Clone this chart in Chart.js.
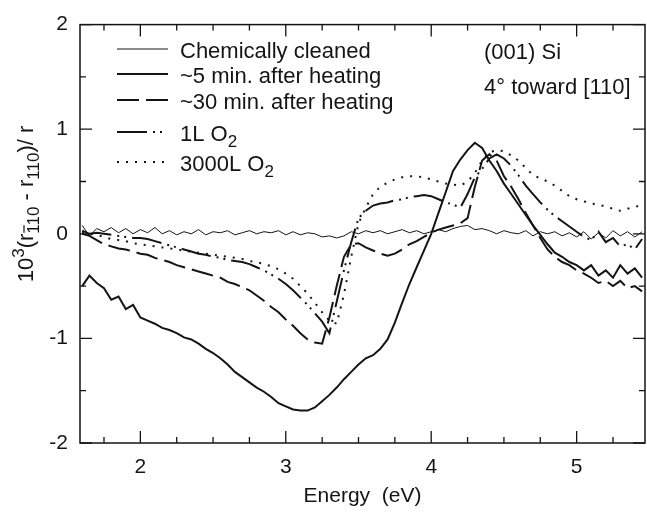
<!DOCTYPE html>
<html><head><meta charset="utf-8">
<script src="https://cdn.jsdelivr.net/npm/chart.js@4.4.1/dist/chart.umd.min.js"></script>
<style>html,body{margin:0;padding:0;background:#fff}#wrap{width:647px;height:512px}</style>
</head><body><div id="wrap"><canvas id="c" width="647" height="512"></canvas></div>
<script>
const energy = [
1.60,1.65,1.70,1.75,1.80,1.85,1.90,1.95,2.00,2.05,
2.10,2.15,2.20,2.25,2.30,2.35,2.40,2.45,2.50,2.55,
2.60,2.65,2.70,2.75,2.80,2.85,2.90,2.95,3.00,3.05,
3.10,3.15,3.20,3.25,3.30,3.35,3.40,3.45,3.50,3.55,
3.60,3.65,3.70,3.75,3.80,3.85,3.90,3.95,4.00,4.05,
4.10,4.15,4.20,4.25,4.30,4.35,4.40,4.45,4.50,4.55,
4.60,4.65,4.70,4.75,4.80,4.85,4.90,4.95,5.00,5.05,
5.10,5.15,5.20,5.25,5.30,5.35,5.40,5.45];
const chemCleaned = [
0.08,-0.02,0.05,0.02,0.06,0.01,0.05,0.00,0.04,0.01,
0.06,0.00,0.03,-0.01,0.02,0.00,0.04,-0.01,0.02,0.01,
0.03,-0.01,0.01,0.03,0.00,0.02,0.01,0.03,-0.01,0.02,
-0.01,0.01,0.00,-0.03,-0.02,-0.04,-0.02,0.02,0.00,0.03,
0.01,0.03,0.00,0.02,0.04,0.01,0.03,0.00,0.02,0.04,
0.02,0.05,0.07,0.08,0.04,0.05,0.03,0.00,0.03,0.01,
0.00,0.03,-0.02,0.02,0.00,0.02,-0.02,0.01,-0.03,0.02,
-0.05,0.01,-0.04,0.03,-0.02,0.02,-0.03,0.02];
const min5 = [
-0.50,-0.40,-0.47,-0.52,-0.63,-0.60,-0.72,-0.68,-0.80,-0.83,
-0.86,-0.90,-0.92,-0.95,-0.99,-1.01,-1.05,-1.10,-1.14,-1.19,
-1.25,-1.32,-1.37,-1.42,-1.47,-1.51,-1.56,-1.62,-1.65,-1.68,
-1.69,-1.69,-1.66,-1.60,-1.54,-1.47,-1.39,-1.32,-1.25,-1.19,
-1.16,-1.10,-1.01,-0.85,-0.66,-0.48,-0.32,-0.16,0.00,0.20,
0.40,0.60,0.71,0.80,0.87,0.82,0.70,0.60,0.48,0.38,
0.28,0.18,0.08,-0.01,-0.10,-0.18,-0.22,-0.27,-0.30,-0.35,
-0.30,-0.40,-0.35,-0.42,-0.30,-0.38,-0.33,-0.42];
const min30 = [
0.00,-0.02,-0.06,-0.10,-0.12,-0.14,-0.15,-0.17,-0.19,-0.20,
-0.23,-0.25,-0.27,-0.30,-0.32,-0.34,-0.36,-0.38,-0.40,-0.42,
-0.46,-0.48,-0.51,-0.54,-0.59,-0.64,-0.70,-0.75,-0.82,-0.88,
-0.95,-1.01,-1.04,-1.05,-0.80,-0.50,-0.22,-0.10,-0.09,-0.13,
-0.16,-0.19,-0.21,-0.19,-0.15,-0.10,-0.07,-0.03,0.01,0.04,
0.06,0.08,0.10,0.15,0.45,0.70,0.76,0.70,0.55,0.45,
0.33,0.20,0.08,-0.04,-0.15,-0.22,-0.27,-0.30,-0.35,-0.38,
-0.42,-0.47,-0.45,-0.50,-0.45,-0.52,-0.50,-0.55];
const o2_1L = [
0.03,0.00,0.01,0.00,-0.01,-0.02,-0.03,-0.04,-0.04,-0.05,
-0.07,-0.09,-0.11,-0.13,-0.15,-0.17,-0.19,-0.20,-0.22,-0.23,
-0.25,-0.26,-0.27,-0.29,-0.32,-0.35,-0.39,-0.43,-0.48,-0.54,
-0.61,-0.68,-0.76,-0.84,-0.95,-0.65,-0.35,-0.08,0.15,0.22,
0.27,0.29,0.30,0.32,0.33,0.35,0.36,0.37,0.36,0.33,
0.30,0.28,0.25,0.38,0.54,0.62,0.72,0.76,0.72,0.65,
0.56,0.46,0.38,0.30,0.23,0.17,0.12,0.07,0.02,-0.03,
-0.06,0.02,-0.08,-0.04,-0.12,-0.10,-0.15,-0.05];
const o2_3000L = [
0.02,0.00,-0.01,-0.03,-0.05,-0.06,-0.07,-0.09,-0.10,-0.11,
-0.12,-0.13,-0.14,-0.15,-0.16,-0.17,-0.18,-0.19,-0.20,-0.21,
-0.22,-0.23,-0.24,-0.26,-0.27,-0.29,-0.31,-0.34,-0.38,-0.43,
-0.50,-0.57,-0.66,-0.75,-0.83,-0.86,-0.58,-0.22,0.10,0.25,
0.38,0.45,0.49,0.52,0.54,0.55,0.55,0.54,0.52,0.50,
0.48,0.47,0.46,0.50,0.58,0.70,0.78,0.80,0.79,0.75,
0.70,0.63,0.56,0.53,0.50,0.46,0.41,0.36,0.33,0.31,
0.29,0.28,0.26,0.24,0.22,0.24,0.26,0.27];
const seriesLabels = ['Chemically cleaned','~5 min. after heating','~30 min. after heating','1L O','3000L O'];
const seriesSubs = ['','','','2','2'];
const xTickValues = [2,3,4,5];
const xMinorTicks = [1.75,2.25,2.5,2.75,3.25,3.5,3.75,4.25,4.5,4.75,5.25];
const yTickValues = [-2,-1,0,1,2];
const yMinorTicks = [-1.5,-0.5,0.5,1.5];
const annotLines = ['(001) Si','4\u00B0 toward [110]'];

const INK = '#141414';
const FONT = '"Liberation Sans", Arial, Helvetica, sans-serif';
const styles = [
  {w:1, dash:[]},
  {w:2, dash:[]},
  {w:2, dash:[22,7]},
  {w:2, dash:[30,6,2,5,2,6]},
  {w:2, dash:[2,7]}
];
const seriesData = [chemCleaned, min5, min30, o2_1L, o2_3000L];

const datasets = seriesData.map((arr,k)=>({
  label: seriesLabels[k]+seriesSubs[k],
  data: energy.map((x,i)=>({x:x, y:arr[i]})),
  borderColor: INK,
  borderWidth: styles[k].w,
  borderDash: styles[k].dash,
  pointRadius: 0,
  tension: 0,
  fill: false
}));

const decor = {
  id:'decor',
  afterDraw(chart){
    const ctx = chart.ctx, a = chart.chartArea, sx = chart.scales.x, sy = chart.scales.y;
    ctx.save();
    ctx.strokeStyle = INK; ctx.lineWidth = 1.5; ctx.setLineDash([]);
    ctx.strokeRect(a.left, a.top, a.right-a.left, a.bottom-a.top);
    ctx.lineWidth = 1.3;
    ctx.beginPath();
    const xt = (v,len)=>{const p=sx.getPixelForValue(v); ctx.moveTo(p,a.bottom); ctx.lineTo(p,a.bottom-len); ctx.moveTo(p,a.top); ctx.lineTo(p,a.top+len);};
    const yt = (v,len)=>{const p=sy.getPixelForValue(v); ctx.moveTo(a.left,p); ctx.lineTo(a.left+len,p); ctx.moveTo(a.right,p); ctx.lineTo(a.right-len,p);};
    xTickValues.forEach(v=>xt(v,12)); xMinorTicks.forEach(v=>xt(v,6));
    yTickValues.forEach(v=>yt(v,12)); yMinorTicks.forEach(v=>yt(v,6));
    ctx.stroke();

    // legend
    const rowsY = [49,74,100,132,162];
    ctx.fillStyle = INK; ctx.textBaseline = 'middle'; ctx.textAlign='left';
    rowsY.forEach((y,k)=>{
      ctx.beginPath(); ctx.lineWidth = styles[k].w; ctx.setLineDash(styles[k].dash);
      ctx.moveTo(117,y); ctx.lineTo(168,y); ctx.stroke();
      ctx.setLineDash([]);
      ctx.font = '22px '+FONT;
      ctx.fillText(seriesLabels[k],180,y+3);
      if(seriesSubs[k]){
        const w = ctx.measureText(seriesLabels[k]).width;
        ctx.font = '17px '+FONT;
        ctx.fillText(seriesSubs[k],180+w,y+10);
      }
    });
    // annotation
    ctx.font = '22px '+FONT;
    ctx.fillText(annotLines[0],484,53);
    ctx.fillText(annotLines[1],484,88);

    // y axis title
    ctx.translate(33, 204);
    ctx.rotate(-Math.PI/2);
    ctx.textBaseline = 'alphabetic';
    const parts = [
      {t:'10', s:22, dy:0},
      {t:'3', s:17, dy:-9},
      {t:'(r', s:22, dy:0},
      {t:'110', s:17, dy:6, bar:true},
      {t:' - r', s:22, dy:0},
      {t:'110', s:17, dy:6},
      {t:')/ r', s:22, dy:0}
    ];
    let total = 0;
    parts.forEach(p=>{ctx.font = p.s+'px '+FONT; p.w = ctx.measureText(p.t).width; total += p.w;});
    let cx = -total/2;
    parts.forEach(p=>{
      ctx.font = p.s+'px '+FONT;
      ctx.fillText(p.t, cx, p.dy);
      if(p.bar){
        const w1 = ctx.measureText('1').width;
        ctx.lineWidth = 1.2; ctx.beginPath();
        ctx.moveTo(cx+1, p.dy-15); ctx.lineTo(cx+w1-1, p.dy-15); ctx.stroke();
      }
      cx += p.w;
    });
    ctx.restore();
  }
};

new Chart(document.getElementById('c'), {
  type:'line',
  data:{datasets:datasets},
  options:{
    responsive:false, animation:false,
    layout:{padding:{left:0,right:2,top:17,bottom:0}},
    plugins:{legend:{display:false}, tooltip:{enabled:false}},
    scales:{
      x:{
        type:'linear', min:1.585, max:5.47,
        grid:{display:false, drawTicks:false},
        border:{display:false},
        afterBuildTicks:(s)=>{s.ticks = xTickValues.map(v=>({value:v}));},
        afterFit:(s)=>{s.height = 69;},
        ticks:{padding:12, color:INK, font:{family:FONT, size:21}, maxRotation:0},
        title:{display:true, text:'Energy  (eV)', color:INK, font:{family:FONT, size:21}, padding:{top:0,bottom:3}}
      },
      y:{
        min:-2, max:2,
        grid:{display:false, drawTicks:false},
        border:{display:false},
        afterBuildTicks:(s)=>{s.ticks = yTickValues.map(v=>({value:v}));},
        afterFit:(s)=>{s.width = 80;},
        ticks:{padding:12, color:INK, font:{family:FONT, size:21}}
      }
    }
  },
  plugins:[decor]
});
</script>
</body></html>
